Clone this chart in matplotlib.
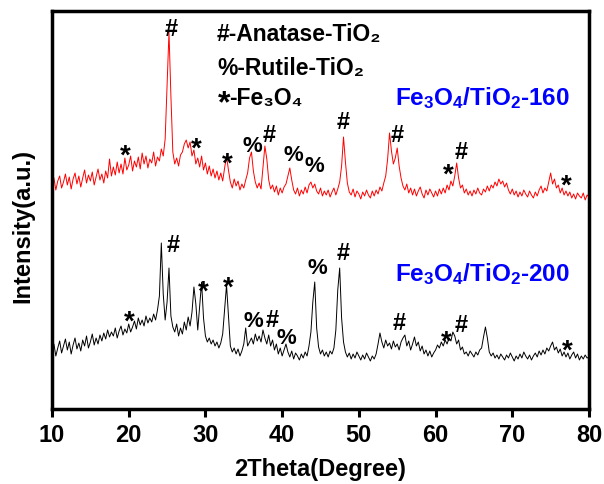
import numpy as np
import matplotlib
matplotlib.use("Agg")
import matplotlib.pyplot as plt

plt.rcParams['font.family'] = ['Liberation Sans', 'DejaVu Sans']
plt.rcParams['font.weight'] = 'bold'
plt.rcParams['mathtext.fontset'] = 'custom'
plt.rcParams['mathtext.rm'] = 'Liberation Sans:bold'
plt.rcParams['mathtext.bf'] = 'Liberation Sans:bold'
plt.rcParams['mathtext.default'] = 'bf'

# =========================
# Data (arbitrary intensity units, 0.25 deg steps)
# =========================
two_theta = np.linspace(10, 80, 281)

int_160 = [
    228, 236, 224, 233, 238, 226, 232, 240, 229, 237, 225, 235,
    241, 230, 238, 227, 236, 244, 231, 239, 233, 242, 229, 237,
    245, 234, 240, 231, 243, 236, 255, 238, 247, 239, 252, 241,
    250, 240, 256, 244, 249, 258, 243, 253, 247, 257, 245, 261,
    250, 258, 246, 255, 251, 262, 248, 257, 253, 265, 258, 275,
    330, 382, 318, 262, 250, 256, 248, 259, 262, 270, 274, 266,
    272, 258, 264, 250, 256, 247, 258, 244, 251, 240, 248, 238,
    245, 236, 243, 234, 241, 233, 246, 258, 244, 232, 226, 235,
    228, 233, 224, 230, 226, 234, 241, 256, 262, 243, 232, 226,
    231, 225, 246, 268, 255, 234, 225, 229, 222, 228, 219, 226,
    221, 227, 230, 238, 246, 234, 224, 220, 226, 218, 224, 220,
    227, 221, 229, 232, 226, 230, 223, 220, 226, 218, 223, 219,
    224, 217, 222, 226, 219, 225, 232, 248, 277, 252, 231, 222,
    219, 225, 217, 223, 220, 215, 222, 218, 224, 219, 216, 223,
    218, 224, 220, 227, 223, 231, 238, 255, 281, 263, 250, 256,
    266, 248, 236, 228, 224, 230, 221, 226, 219, 225, 218, 223,
    227, 220, 216, 224, 219, 225, 221, 217, 223, 218, 225, 220,
    226, 221, 229, 224, 233, 228, 238, 251, 236, 226, 229, 221,
    225, 219, 223, 218, 224, 220, 226, 221, 219, 225, 222, 228,
    223, 229, 226, 232, 228, 235, 230, 233, 227, 231, 224, 220,
    225, 219, 223, 217, 222, 218, 224, 220, 217, 223, 219, 216,
    222, 218, 224, 228, 221, 226, 223, 232, 241, 230, 235, 226,
    229, 221, 226, 219, 223, 218, 222, 216, 220, 215, 221, 218,
    216, 221, 214, 219, 217,
]

int_200 = [
    62, 70, 58, 66, 73, 61, 68, 75, 64, 72, 60, 69,
    76, 65, 71, 63, 74, 68, 78, 66, 72, 80, 69, 76,
    70, 79, 73, 81, 75, 84, 77, 82, 78, 86, 76, 83,
    88, 79, 85, 81, 90, 82, 87, 93, 85, 96, 89, 94,
    88, 98, 91, 96, 92, 100, 94, 104, 118, 171, 120, 94,
    112, 146, 98, 87, 82, 90, 78, 86, 80, 92, 84, 97,
    88, 102, 127, 110, 84, 108, 132, 96, 78, 72, 76, 70,
    74, 68, 72, 66, 71, 80, 104, 129, 98, 68, 62, 66,
    60, 65, 58, 63, 70, 86, 68, 72, 76, 70, 80, 73,
    78, 72, 84, 76, 70, 79, 68, 74, 64, 70, 60, 66,
    58, 64, 70, 62, 57, 63, 55, 61, 58, 54, 60, 56,
    62, 58, 68, 82, 112, 132, 86, 67, 60, 64, 58, 62,
    57, 63, 60, 66, 84, 124, 146, 96, 72, 62, 57, 61,
    55, 60, 56, 62, 58, 54, 59, 55, 61, 57, 53, 58,
    55, 60, 70, 81, 72, 66, 74, 68, 71, 65, 73, 67,
    70, 64, 72, 76, 79, 68, 73, 64, 70, 77, 68, 72,
    63, 68, 60, 64, 58, 63, 57, 61, 64, 69, 66, 72,
    68, 74, 70, 76, 73, 82, 78, 70, 74, 64, 67, 60,
    62, 58, 63, 60, 57, 62, 59, 64, 66, 77, 87, 76,
    62, 58, 61, 56, 59, 55, 60, 57, 54, 59, 56, 61,
    57, 53, 58, 55, 60, 56, 62, 58, 55, 59, 54, 58,
    61, 57, 63, 59, 64, 60, 66, 63, 68, 72, 64, 67,
    61, 65, 58, 62, 57, 61, 55, 59, 62, 56, 60, 54,
    58, 55, 59, 56, 57,
]

# phase markers: (symbol, 2theta, height) for each pattern
marks_160 = [
    ("#", 25.5, 387), ("*", 19.6, 266), ("*", 28.8, 273), ("*", 32.8, 258),
    ("%", 36.1, 270), ("#", 38.3, 281), ("%", 41.5, 261), ("%", 44.2, 250),
    ("#", 48.0, 294), ("#", 55.0, 281), ("*", 61.7, 247), ("#", 63.4, 264),
    ("*", 77.1, 236),
]
marks_200 = [
    ("*", 20.1, 100), ("#", 25.8, 171), ("*", 29.7, 130), ("*", 33.0, 134),
    ("%", 36.3, 95), ("#", 38.7, 96), ("%", 40.5, 78), ("%", 44.6, 148),
    ("#", 47.9, 163), ("#", 55.3, 93), ("*", 61.4, 80), ("#", 63.3, 91),
    ("*", 77.2, 71),
]

# =========================
# Plot
# =========================
fig = plt.figure(figsize=(6.04, 4.84), dpi=100)
ax = fig.add_axes([52 / 604, 75 / 484, 537 / 604, 398 / 484])

ax.plot(two_theta, int_160, color="#ff0000", lw=0.7)
ax.plot(two_theta, int_200, color="black", lw=0.7)

for sym, x, y in marks_160 + marks_200:
    size = {"*": 20, "#": 17, "%": 16}[sym]
    dy = -6 if sym == "*" else 0
    ax.text(x, y + dy, sym, ha="center", va="center_baseline",
            fontsize=size, fontweight="bold")

# legend text
ax.text(31.5, 373.5, "#-Anatase-TiO\u2082", fontsize=16.5, va="baseline")
ax.text(31.5, 338.5, "%-Rutile-TiO\u2082", fontsize=16.5, va="baseline")
ax.text(31.6, 302, "*", fontsize=23, va="baseline")
ax.text(33.1, 308.5, "-Fe\u2083O\u2084", fontsize=16.5, va="baseline")

ax.text(54.7, 308.5, r"Fe$_3$O$_4$/TiO$_2$-160", color="#0000ff",
        fontsize=17.5, va="baseline")
ax.text(54.7, 132.5, r"Fe$_3$O$_4$/TiO$_2$-200", color="#0000ff",
        fontsize=17.5, va="baseline")

ax.set_xlim(10, 80)
ax.set_ylim(5, 403)
ax.set_xticks(range(10, 81, 10))
ax.set_yticks([])
ax.tick_params(axis="x", direction="out", length=6, width=2.2,
               labelsize=17, pad=5)
for t in ax.get_xticklabels():
    t.set_fontweight("bold")
for sp in ax.spines.values():
    sp.set_linewidth(2.5)

ax.set_xlabel("2Theta(Degree)", fontsize=17, fontweight="bold", va="center")
ax.xaxis.set_label_coords(0.499, -0.151)
ax.set_ylabel("Intensity(a.u.)", fontsize=17, fontweight="bold", va="center")
ax.yaxis.set_label_coords(-0.054, 0.46)

fig.savefig("out.png", dpi=100)
